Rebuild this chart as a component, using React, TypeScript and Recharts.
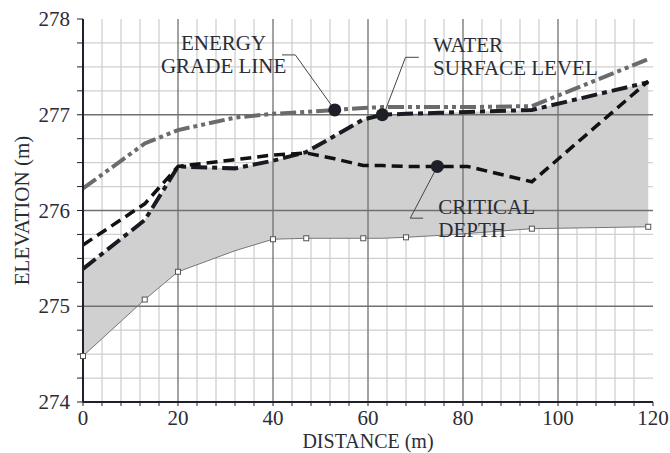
import {
  Area,
  ComposedChart,
  Label,
  Line,
  ReferenceDot,
  ReferenceLine,
  XAxis,
  YAxis,
} from 'recharts'

// stations along the reach (m) and elevations (m)
const dist = [0, 13, 20, 32, 40, 47, 53, 59, 63, 68, 75, 81, 94.5, 119]
const bed = [274.48, 275.07, 275.36, 275.58, 275.7, 275.71, 275.71, 275.71, 275.71, 275.72, 275.74, 275.76, 275.81, 275.83]
const wsl = [275.39, 275.9, 276.46, 276.44, 276.52, 276.61, 276.78, 276.95, 277.0, 277.01, 277.02, 277.03, 277.05, 277.34]
const egl = [276.23, 276.7, 276.84, 276.97, 277.01, 277.03, 277.05, 277.07, 277.08, 277.08, 277.08, 277.08, 277.09, 277.58]
const critical = [275.64, 276.07, 276.46, 276.53, 276.58, 276.6, 276.54, 276.47, 276.47, 276.46, 276.46, 276.46, 276.3, 277.35]

// surveyed bed points (square markers)
const bedStations = [0, 13, 20, 40, 47, 59, 68, 94.5, 119]

const xLabels = [0, 20, 40, 60, 80, 100, 120]
const yLabels = [274, 275, 276, 277, 278]

const xTicks = Array.from({ length: 31 }, (_, i) => i * 4)
const yTicks = Array.from({ length: 17 }, (_, i) => 274 + i * 0.25)
const minorX = xTicks.filter((v) => v % 20 !== 0)
const minorY = yTicks.filter((v) => v % 1 !== 0)
const majorX = [20, 40, 60, 80, 100]
const majorY = [275, 276, 277]

const rows = dist.map((d, i) => ({
  dist: d,
  bed: bed[i],
  wsl: wsl[i],
  egl: egl[i],
  critical: critical[i],
  flow: [bed[i], wsl[i]],
}))

const FONT = "'Liberation Serif', 'Times New Roman', Times, serif"
const INK = '#2b2d35'
const AXIS = '#1f2029'
const txt = { fontFamily: FONT, fontSize: 21, fill: INK }

function XTick({ x, y, payload }: any) {
  if (!xLabels.includes(payload.value)) return <g />
  return (
    <text x={x} y={y} dy={17} textAnchor="middle" style={txt}>
      {payload.value}
    </text>
  )
}

function YTick({ x, y, payload }: any) {
  if (!yLabels.includes(payload.value)) return <g />
  return (
    <text x={x - 5} y={y} dy={7} textAnchor="end" style={txt}>
      {payload.value}
    </text>
  )
}

function BedDot({ cx, cy, payload }: any) {
  if (!bedStations.includes(payload.dist)) return <g key={payload.dist} />
  return <rect key={payload.dist} x={cx - 2.5} y={cy - 2.5} width={5} height={5} fill="#fff" stroke="#555" strokeWidth={1} />
}

function Note({ viewBox, lines, anchor }: any) {
  const { x, y } = viewBox
  return (
    <text x={x} y={y} textAnchor={anchor} style={txt}>
      {lines.map((t: string, i: number) => (
        <tspan key={i} x={x} dy={i === 0 ? 0 : 23}>
          {t}
        </tspan>
      ))}
    </text>
  )
}

function AxisTitle({ viewBox, value, vertical }: any) {
  const { x, y, width, height } = viewBox
  if (vertical) {
    const cx = 29
    const cy = y + height / 2
    return (
      <text x={cx} y={cy} textAnchor="middle" transform={`rotate(-90 ${cx} ${cy})`} style={txt}>
        {value}
      </text>
    )
  }
  return (
    <text x={x + width / 2} y={y + height - 5} textAnchor="middle" style={{ ...txt, fontSize: 20 }}>
      {value}
    </text>
  )
}

export default function App() {
  return (
    <div style={{ position: 'absolute', left: 0, top: 0, background: '#fff' }}>
      <ComposedChart
        width={670}
        height={453}
        data={rows}
        margin={{ top: 19, right: 17, bottom: 0, left: 0 }}
        style={{ fontFamily: FONT }}
      >
        <XAxis
          dataKey="dist"
          type="number"
          domain={[0, 120]}
          ticks={xTicks}
          interval={0}
          height={51}
          tick={<XTick />}
          tickSize={4}
          tickLine={{ stroke: AXIS }}
          axisLine={{ stroke: AXIS, strokeWidth: 2 }}
        >
          <Label content={<AxisTitle value="DISTANCE (m)" />} />
        </XAxis>
        <XAxis xAxisId="top" orientation="top" type="number" domain={[0, 120]} height={0} tick={false} tickLine={false} axisLine={{ stroke: AXIS, strokeWidth: 2 }} />
        <YAxis
          type="number"
          domain={[274, 278]}
          ticks={yTicks}
          interval={0}
          width={83}
          tick={<YTick />}
          tickSize={6}
          tickLine={{ stroke: AXIS }}
          axisLine={{ stroke: AXIS, strokeWidth: 2 }}
        >
          <Label content={<AxisTitle value="ELEVATION (m)" vertical />} />
        </YAxis>
        <YAxis yAxisId="right" orientation="right" type="number" domain={[274, 278]} width={0} tick={false} tickLine={false} axisLine={{ stroke: AXIS, strokeWidth: 3 }} />

        <Area dataKey="flow" type="linear" stroke="none" fill="#d0d0d0" fillOpacity={1} isAnimationActive={false} />

        {minorX.map((v) => (
          <ReferenceLine key={'mx' + v} x={v} stroke="#cfcfcf" strokeWidth={1.3} />
        ))}
        {minorY.map((v) => (
          <ReferenceLine key={'my' + v} y={v} stroke="#cfcfcf" strokeWidth={1.3} />
        ))}
        {majorX.map((v) => (
          <ReferenceLine key={'Mx' + v} x={v} stroke="#707070" strokeWidth={1.3} />
        ))}
        {majorY.map((v) => (
          <ReferenceLine key={'My' + v} y={v} stroke="#707070" strokeWidth={1.3} />
        ))}

        <Line dataKey="bed" type="linear" stroke="#777" strokeWidth={1} dot={<BedDot />} activeDot={false} isAnimationActive={false} />
        <Line dataKey="egl" type="linear" stroke="#6b6b6b" strokeWidth={4} strokeDasharray="16 4 4 4 4 4" dot={false} activeDot={false} isAnimationActive={false} />
        <Line dataKey="wsl" type="linear" stroke="#1a1b22" strokeWidth={4} strokeDasharray="16 5 5 5" dot={false} activeDot={false} isAnimationActive={false} />
        <Line dataKey="critical" type="linear" stroke="#111" strokeWidth={3.5} strokeDasharray="11 6" dot={false} activeDot={false} isAnimationActive={false} />

        {/* leader lines for the annotations */}
        <ReferenceLine segment={[{ x: 41.9, y: 277.625 }, { x: 44.7, y: 277.625 }]} stroke="#444" strokeWidth={1} />
        <ReferenceLine segment={[{ x: 44.7, y: 277.625 }, { x: 53, y: 277.05 }]} stroke="#444" strokeWidth={1} />
        <ReferenceLine segment={[{ x: 70.7, y: 277.6 }, { x: 67.9, y: 277.6 }]} stroke="#444" strokeWidth={1} />
        <ReferenceLine segment={[{ x: 67.9, y: 277.6 }, { x: 63.3, y: 277.0 }]} stroke="#444" strokeWidth={1} />
        <ReferenceLine segment={[{ x: 74.6, y: 276.46 }, { x: 68.9, y: 275.92 }]} stroke="#444" strokeWidth={1} />
        <ReferenceLine segment={[{ x: 68.9, y: 275.92 }, { x: 71.6, y: 275.92 }]} stroke="#444" strokeWidth={1} />

        <ReferenceDot x={53} y={277.05} r={6.5} fill="#1e2028" stroke="none" />
        <ReferenceDot x={63} y={277.0} r={6.5} fill="#1e2028" stroke="none" />
        <ReferenceDot x={74.6} y={276.46} r={6.5} fill="#1e2028" stroke="none" />

        <ReferenceDot x={29.6} y={277.68} r={0} fill="none" stroke="none" label={<Note lines={['ENERGY', 'GRADE LINE']} anchor="middle" />} />
        <ReferenceDot x={73.7} y={277.66} r={0} fill="none" stroke="none" label={<Note lines={['WATER', 'SURFACE LEVEL']} anchor="start" />} />
        <ReferenceDot x={74.8} y={275.96} r={0} fill="none" stroke="none" label={<Note lines={['CRITICAL', 'DEPTH']} anchor="start" />} />
      </ComposedChart>
    </div>
  )
}
